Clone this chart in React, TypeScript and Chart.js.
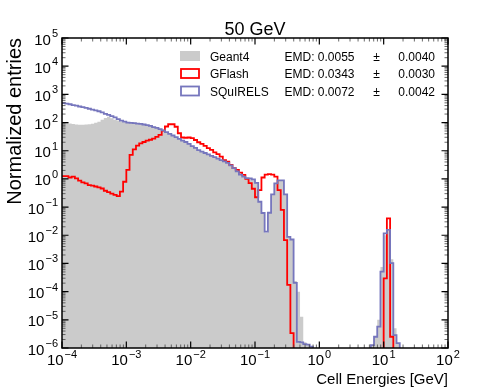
import React, { useEffect, useRef } from 'react';
import { Chart, registerables } from 'chart.js';

Chart.register(...registerables);

// ---------------- data ----------------
const TITLE = '50 GeV';
const X_LABEL = 'Cell Energies [GeV]';
const Y_LABEL = 'Normalized entries';

// binning: 120 log-spaced bins from 1e-4 to 1e2 GeV
const X_MIN_EXP = -4;
const X_MAX_EXP = 2;
const N_BINS = 120;

const xMajorExps = [-4, -3, -2, -1, 0, 1, 2];
const yMajorExps = [-6, -5, -4, -3, -2, -1, 0, 1, 2, 3, 4, 5];
const minorSubs = [2, 3, 4, 5, 6, 7, 8, 9];

const seriesNames = ['Geant4', 'GFlash', 'SQuIRELS'];
const emdValues = ['0.0055', '0.0343', '0.0072'];
const emdErrors = ['0.0040', '0.0030', '0.0042'];

// bin contents, log10(entries); null = empty bin
const geant4Log: (number | null)[] = [
  2.02, 2.0, 1.97, 1.95, 1.93, 1.92, 1.92, 1.93, 1.94, 1.96, 1.99, 2.03, 2.1, 2.16, 2.21, 2.15, 2.1, 2.07, 2.04, 2.01,
  2.01, 2.0, 1.99, 1.97, 1.95, 1.93, 1.91, 1.88, 1.85, 1.81, 1.77, 1.72, 1.66, 1.6, 1.54, 1.48, 1.42, 1.37, 1.31, 1.25,
  1.17, 1.1, 1.03, 0.97, 0.92, 0.87, 0.82, 0.77, 0.72, 0.67, 0.62, 0.56, 0.48, 0.38, 0.27, 0.16, 0.08, 0.03, 0.02, -0.02,
  -0.14, -0.8, -1.22, -1.9, -1.2, -0.55, -0.16, -0.05, -0.05, -0.55, -2.06, -2.15, -3.62, -4.0, -4.89, -5.8, -5.9, -5.95, null, null,
  null, null, null, null, null, null, null, null, null, null, null, null, null, null, null, null, -5.9, -5.6, -5.0, -3.13,
  -2.0, -1.85, -2.85, -5.3, -5.83, null, null, null, null, null, null, null, null, null, null, null, null, null, null, null,
];

const gflashLog: (number | null)[] = [
  0.1, 0.1, 0.05, 0.08, 0.02, -0.06, -0.12, -0.16, -0.22, -0.24, -0.27, -0.3, -0.34, -0.42, -0.47, -0.52, -0.57, -0.61, -0.45, -0.1,
  0.32, 0.85, 1.05, 1.18, 1.26, 1.31, 1.36, 1.39, 1.43, 1.49, 1.56, 1.71, 1.86, 1.94, 1.94, 1.85, 1.62, 1.47, 1.46, 1.47,
  1.45, 1.38, 1.3, 1.24, 1.17, 1.09, 1.03, 0.94, 0.88, 0.79, 0.67, 0.61, 0.5, 0.38, 0.32, 0.22, 0.14, 0.0, -0.15, -0.35,
  -0.65, -0.4, 0.05, 0.15, 0.17, 0.15, 0.08, -0.4, -1.1, -2.17, -3.76, -5.47, null, null, null, null, null, null, null, null,
  null, null, null, null, null, null, null, null, null, null, null, null, null, null, null, null, null, null, null, null,
  -3.53, -1.4, -5.6, null, null, null, null, null, null, null, null, null, null, null, null, null, null, null, null, null,
];

const squirelsLog: (number | null)[] = [
  2.69, 2.67, 2.65, 2.62, 2.6, 2.57, 2.55, 2.52, 2.49, 2.46, 2.43, 2.4, 2.36, 2.31, 2.27, 2.23, 2.18, 2.12, 2.07, 2.03,
  2.0, 1.99, 1.98, 1.96, 1.95, 1.93, 1.91, 1.88, 1.84, 1.81, 1.77, 1.72, 1.66, 1.6, 1.54, 1.48, 1.42, 1.36, 1.31, 1.24,
  1.16, 1.1, 1.02, 0.97, 0.92, 0.87, 0.82, 0.77, 0.72, 0.67, 0.62, 0.57, 0.48, 0.38, 0.27, 0.15, 0.08, 0.03, 0.02, -0.02,
  -0.14, -0.81, -1.21, -1.87, -1.2, -0.55, -0.16, -0.05, -0.05, -0.55, -2.06, -2.15, -3.69, -5.78, -5.8, -5.86, -5.88, -5.95, null, null,
  null, null, null, null, null, null, null, null, null, null, null, null, null, null, null, null, -5.9, -5.6, -5.24, -3.29,
  -1.93, -1.81, -2.99, -5.54, -5.83, null, null, null, null, null, null, null, null, null, null, null, null, null, null, null,
];

// ---------------- helpers ----------------
const EMPTY = 1e-12; // below the axis range, clipped away
const FONT = "'Liberation Sans', Arial, Helvetica, sans-serif";
const GRAY = '#cbcbcb';
const RED = '#ff0000';
const PURPLE = '#7676bd';

function binEdge(k: number) {
  return Math.pow(10, X_MIN_EXP + ((X_MAX_EXP - X_MIN_EXP) * k) / N_BINS);
}

function toSteps(logs: (number | null)[]) {
  const pts = logs.map((v, k) => ({ x: binEdge(k), y: v === null ? EMPTY : Math.pow(10, v) }));
  pts.push({ x: binEdge(N_BINS), y: EMPTY });
  return pts;
}

function expText(e: number) {
  return e < 0 ? '\u2212' + Math.abs(e) : String(e);
}

function drawPow(ctx: CanvasRenderingContext2D, e: number, x: number, baseline: number, align: 'center' | 'right') {
  const base = '10';
  const ex = expText(e);
  ctx.font = `15px ${FONT}`;
  const wb = ctx.measureText(base).width;
  ctx.font = `11px ${FONT}`;
  const we = ctx.measureText(ex).width;
  const gap = 1;
  const total = wb + gap + we;
  const sx = align === 'center' ? x - total / 2 : x - total;
  ctx.textAlign = 'left';
  ctx.textBaseline = 'alphabetic';
  ctx.font = `15px ${FONT}`;
  ctx.fillText(base, sx, baseline);
  ctx.font = `11px ${FONT}`;
  ctx.fillText(ex, sx + wb + gap, baseline - 7.5);
}

const decoPlugin = {
  id: 'deco',
  afterDraw(chart: any) {
    const { ctx, chartArea: a, scales } = chart;
    const xs = scales.x;
    const ys = scales.y;
    ctx.save();
    ctx.strokeStyle = '#000';
    ctx.fillStyle = '#000';

    // ticks (inside, all four sides)
    const tickX = (v: number, len: number, w: number) => {
      const p = xs.getPixelForValue(v);
      ctx.lineWidth = w;
      ctx.beginPath();
      ctx.moveTo(p, a.bottom);
      ctx.lineTo(p, a.bottom - len);
      ctx.moveTo(p, a.top);
      ctx.lineTo(p, a.top + len);
      ctx.stroke();
    };
    const tickY = (v: number, len: number, w: number) => {
      const p = ys.getPixelForValue(v);
      ctx.lineWidth = w;
      ctx.beginPath();
      ctx.moveTo(a.left, p);
      ctx.lineTo(a.left + len, p);
      ctx.moveTo(a.right, p);
      ctx.lineTo(a.right - len, p);
      ctx.stroke();
    };
    ctx.strokeStyle = '#444';
    xMajorExps.forEach((e, i) => {
      if (i < xMajorExps.length - 1) minorSubs.forEach((s) => tickX(s * Math.pow(10, e), 3.5, 0.8));
    });
    yMajorExps.forEach((e, i) => {
      if (i < yMajorExps.length - 1) minorSubs.forEach((s) => tickY(s * Math.pow(10, e), 3.5, 0.8));
    });
    ctx.strokeStyle = '#000';
    xMajorExps.forEach((e) => tickX(Math.pow(10, e), 6.5, 1.2));
    yMajorExps.forEach((e) => tickY(Math.pow(10, e), 6.5, 1.2));

    // frame
    ctx.lineWidth = 1.5;
    ctx.strokeRect(a.left, a.top, a.right - a.left, a.bottom - a.top);

    // tick labels
    xMajorExps.forEach((e) => drawPow(ctx, e, xs.getPixelForValue(Math.pow(10, e)), a.bottom + 17, 'center'));
    yMajorExps.forEach((e) => drawPow(ctx, e, a.left - 4, ys.getPixelForValue(Math.pow(10, e)) + 6.5, 'right'));

    // title
    ctx.font = `18px ${FONT}`;
    ctx.textAlign = 'center';
    ctx.textBaseline = 'alphabetic';
    ctx.fillText(TITLE, (a.left + a.right) / 2, a.top - 3);

    // x label (right aligned)
    ctx.font = `15px ${FONT}`;
    ctx.textAlign = 'right';
    ctx.fillText(X_LABEL, a.right, 384);

    // y label (top aligned)
    ctx.save();
    ctx.translate(20.5, a.top);
    ctx.rotate(-Math.PI / 2);
    ctx.font = `20px ${FONT}`;
    ctx.textAlign = 'right';
    ctx.fillText(Y_LABEL, 0, 0);
    ctx.restore();

    // legend
    const rowsY = [56, 73.5, 91];
    const colors = [GRAY, RED, PURPLE];
    seriesNames.forEach((name, i) => {
      const cy = rowsY[i];
      if (i === 0) {
        ctx.fillStyle = GRAY;
        ctx.fillRect(180, cy - 5, 20, 10);
      } else {
        ctx.strokeStyle = colors[i];
        ctx.lineWidth = 1.8;
        ctx.strokeRect(181, cy - 4.5, 18, 9);
      }
      ctx.fillStyle = '#000';
      ctx.font = `12px ${FONT}`;
      ctx.textAlign = 'left';
      ctx.fillText(name, 210, cy + 4.5);
      ctx.fillText('EMD: ' + emdValues[i], 284.5, cy + 4.5);
      ctx.textAlign = 'center';
      ctx.fillText('\u00b1', 376.5, cy + 4.5);
      ctx.textAlign = 'right';
      ctx.fillText(emdErrors[i], 435, cy + 4.5);
    });
    ctx.restore();
  },
};

export default function App() {
  const ref = useRef<HTMLCanvasElement>(null);
  useEffect(() => {
    if (!ref.current) return;
    const common = { stepped: 'before' as const, pointRadius: 0, tension: 0 };
    const chart = new Chart(ref.current, {
      type: 'line',
      data: {
        datasets: [
          {
            ...common,
            label: seriesNames[0],
            data: toSteps(geant4Log),
            borderWidth: 0,
            borderColor: 'rgba(0,0,0,0)',
            backgroundColor: GRAY,
            fill: 'start',
            order: 3,
          },
          {
            ...common,
            label: seriesNames[1],
            data: toSteps(gflashLog),
            borderWidth: 1.8,
            borderColor: RED,
            fill: false,
            order: 2,
          },
          {
            ...common,
            label: seriesNames[2],
            data: toSteps(squirelsLog),
            borderWidth: 1.8,
            borderColor: PURPLE,
            fill: false,
            order: 1,
          },
        ],
      } as any,
      options: {
        responsive: false,
        maintainAspectRatio: false,
        devicePixelRatio: 1,
        animation: false,
        layout: { padding: { left: 62, right: 50, top: 38, bottom: 40 } },
        plugins: { legend: { display: false }, tooltip: { enabled: false }, title: { display: false } },
        scales: {
          x: { type: 'logarithmic', min: Math.pow(10, X_MIN_EXP), max: Math.pow(10, X_MAX_EXP), display: false },
          y: { type: 'logarithmic', min: 1e-6, max: 1e5, display: false },
        },
      } as any,
      plugins: [decoPlugin],
    });
    return () => chart.destroy();
  }, []);
  return (
    <div style={{ position: 'fixed', left: 0, top: 0, width: 498, height: 388, background: '#fff' }}>
      <canvas ref={ref} width={498} height={388} style={{ display: 'block', width: 498, height: 388 }} />
    </div>
  );
}
